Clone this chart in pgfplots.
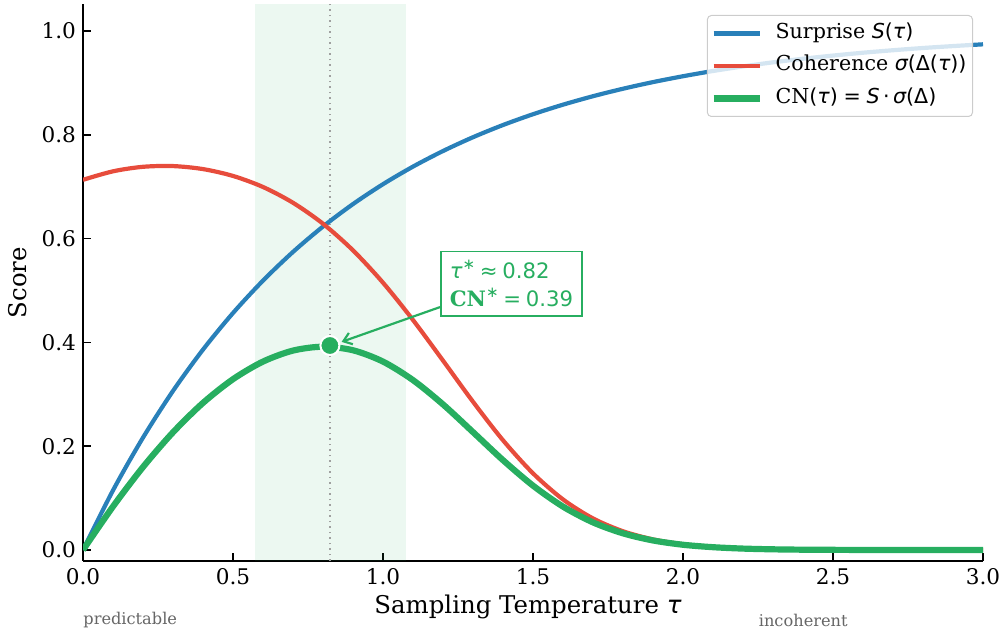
\documentclass[border=0pt]{standalone}
\usepackage{pgfplots}
\usepackage{pgfplotstable}
\pgfplotsset{compat=1.18}
\usepackage{fontspec}
\setmainfont{DejaVu Serif}
\newfontfamily\dvs{DejaVu Sans}
\usetikzlibrary{arrows.meta}
\definecolor{cblue}{HTML}{2980B9}
\definecolor{cred}{HTML}{E74C3C}
\definecolor{cgreen}{HTML}{27AE60}
\definecolor{cgray}{HTML}{A0A0A0}
\newcommand{\mi}[1]{{\dvs\itshape #1}}
\newcommand{\mr}[1]{{\dvs #1}}

\pgfplotstableread{
tau S C CN
0.0 0.0000 0.7132 0.0000
0.1 0.1149 0.7296 0.0838
0.2 0.2165 0.7383 0.1598
0.3 0.3065 0.7397 0.2267
0.4 0.3861 0.7339 0.2834
0.5 0.4566 0.7207 0.3291
0.6 0.5190 0.6994 0.3630
0.7 0.5743 0.6690 0.3842
0.8 0.6232 0.6286 0.3917
0.9 0.6665 0.5773 0.3848
1.0 0.7048 0.5150 0.3630
1.1 0.7387 0.4431 0.3273
1.2 0.7687 0.3649 0.2805
1.3 0.7953 0.2856 0.2271
1.4 0.8188 0.2114 0.1731
1.5 0.8396 0.1477 0.1240
1.6 0.8580 0.0974 0.0836
1.7 0.8743 0.0608 0.0532
1.8 0.8887 0.0361 0.0321
1.9 0.9015 0.0204 0.0184
2.0 0.9128 0.0111 0.0101
2.1 0.9229 0.0058 0.0054
2.2 0.9317 0.0029 0.0027
2.3 0.9396 0.0014 0.0013
2.4 0.9465 0.0006 0.0006
2.5 0.9526 0.0003 0.0003
2.6 0.9581 0.0001 0.0001
2.7 0.9629 0.0000 0.0000
2.8 0.9672 0.0000 0.0000
2.9 0.9709 0.0000 0.0000
3.0 0.9743 0.0000 0.0000
}\data

\begin{document}
\begin{tikzpicture}
\begin{axis}[
  width=450pt, height=278.5pt, scale only axis,
  xmin=0, xmax=3, ymin=-0.0212, ymax=1.052,
  enlargelimits=false,
  axis lines=left,
  axis line style={-, line width=1pt, black},
  tick align=inside,
  major tick length=4pt,
  every tick/.style={black, line width=0.75pt},
  xtick={0,0.5,1,1.5,2,2.5,3},
  ytick={0,0.2,0.4,0.6,0.8,1.0},
  /pgf/number format/.cd, fixed, fixed zerofill, precision=1, assume math mode=true,
  /pgfplots/.cd,
  tick label style={font=\fontsize{10.8}{12}\selectfont},
  label style={font=\fontsize{12.2}{14}\selectfont},
  xlabel={Sampling Temperature \mi{τ}},
  ylabel={Score},
  xlabel style={at={(axis description cs:0.4944,-0.0826)}, anchor=center},
  ylabel style={at={(axis description cs:-0.0722,0.5)}, anchor=center},
  legend style={
    at={(1,1)}, anchor=north east, xshift=-5pt, yshift=-5.5pt,
    draw=black!20, rounded corners=2pt, line width=0.5pt,
    fill=white, fill opacity=0.8, draw opacity=1, text opacity=1,
    font=\fontsize{10.3}{12}\selectfont,
    inner xsep=1.5pt, inner ysep=4pt, row sep=6.25pt,
    nodes={inner sep=0pt, text height=7.5pt, text depth=2.5pt},
    /tikz/every odd column/.append style={column sep=6.5pt},
    /tikz/every even column/.append style={column sep=0pt},
  },
  legend cell align=left,
  legend image code/.code={\draw[#1] (0pt,0pt) -- (23pt,0pt);},
]
\coordinate (SW) at (rel axis cs:0,0);
\addplot[draw=none, fill=cgreen, fill opacity=0.09, forget plot]
  coordinates {(0.573,-0.0212) (1.077,-0.0212) (1.077,1.052) (0.573,1.052)} -- cycle;
\addplot[cgray, line width=0.75pt, dash pattern=on 0.75pt off 2pt, forget plot]
  coordinates {(0.823,-0.0212) (0.823,1.052)};
\addplot[cblue, line width=2.1pt, smooth] table[x=tau, y=S] {\data};
\addlegendentry{Surprise \mi{S}\mr{(}\mi{τ}\mr{)}}
\addplot[cred, line width=2.1pt, smooth] table[x=tau, y=C] {\data};
\addlegendentry{Coherence \mi{σ}\mr{(Δ(}\mi{τ}\mr{))}\hspace*{1.5pt}}
\addplot[cgreen, line width=3.1pt, smooth] table[x=tau, y=CN] {\data};
\addlegendentry{CN\mr{(}\mi{τ}\mr{)\;=\;}\mi{S}\mr{\,·\,}\mi{σ}\mr{(Δ)}}
\addplot[only marks, mark=*, mark size=4.75pt, color=cgreen,
  mark options={draw=white, fill=cgreen, line width=1pt}, forget plot]
  coordinates {(0.823,0.394)};
\draw[cgreen, line width=1.1pt, -{Straight Barb[length=4pt,width=6pt]}]
  (axis cs:1.19,0.468) -- (axis cs:0.862,0.401);
\node[draw=cgreen, line width=0.8pt, fill=white, text=cgreen, align=left,
  inner sep=4.5pt, anchor=west, font=\fontsize{10.6}{14}\selectfont]
  at (axis cs:1.19,0.513)
  {\mi{τ}\raisebox{0.8ex}{\mr{\fontsize{7.5}{8}\selectfont ∗}}\mr{\:≈\:0.82}\\
   \textbf{CN}\raisebox{0.8ex}{\mr{\fontsize{7.5}{8}\selectfont ∗}}\mr{\:=\:0.39}};
\end{axis}
\node[anchor=west, inner sep=0pt, text=black!60, font=\fontsize{8.1}{9}\selectfont]
  at ([shift={(0pt,-29.5pt)}]SW) {predictable};
\node[anchor=east, inner sep=0pt, text=black!60, font=\fontsize{8.1}{9}\selectfont]
  at ([shift={(382.5pt,-29.5pt)}]SW) {incoherent};
\pgfresetboundingbox
\path[use as bounding box] ([shift={(-41.5pt,-34.5pt)}]SW) rectangle ([shift={(460.5pt,280.5pt)}]SW);
\end{tikzpicture}
\end{document}
